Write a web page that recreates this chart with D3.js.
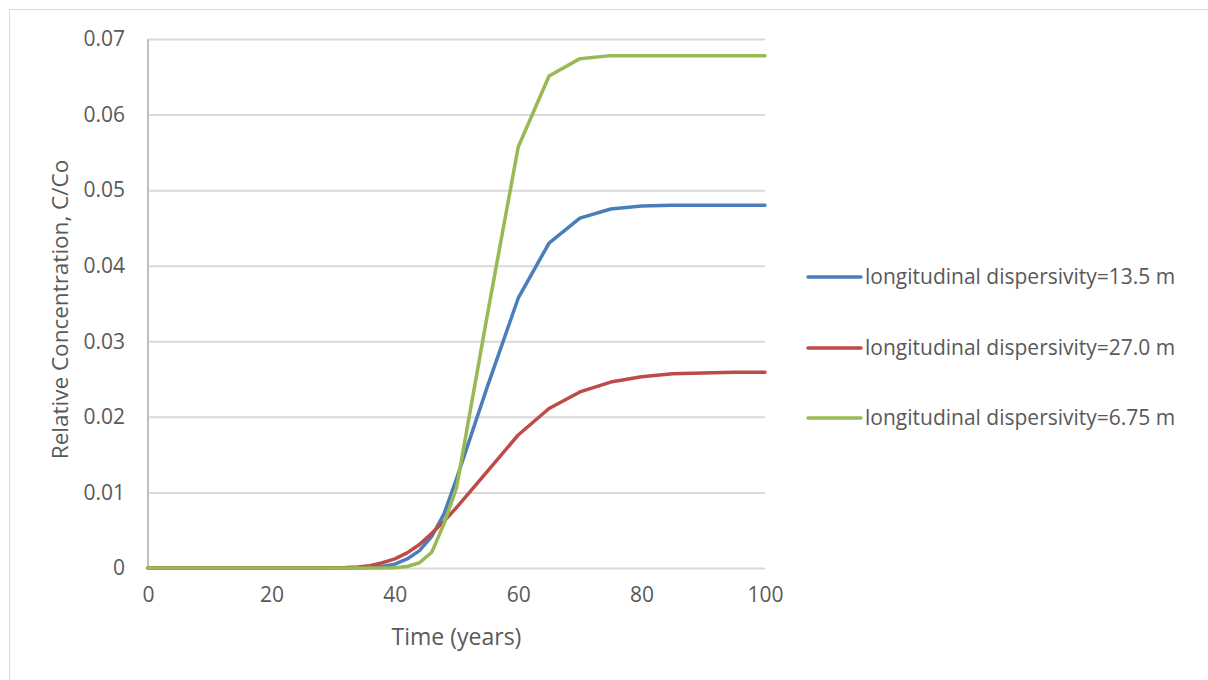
<!DOCTYPE html>
<html>
<head>
<meta charset="utf-8">
<script src="https://cdn.jsdelivr.net/npm/d3@7"></script>
<style>
  body { margin: 0; background: #fff; }
  svg { display: block; }
</style>
</head>
<body>
<div id="chart"></div>
<script>
// time steps (years)
const years = [0, 2, 4, 6, 8, 10, 12, 14, 16, 18, 20, 22, 24, 26, 28, 30, 32, 34, 36, 38,
  40, 42, 44, 46, 48, 50, 55, 60, 65, 70, 75, 80, 85, 90, 95, 100];

// relative concentration C/Co for each dispersivity
const conc135 = [0, 0, 0, 0, 0, 0, 0, 0, 0, 0, 0, 0, 0, 0, 0, 0, 0, 0.00002, 0.00008, 0.0002,
  0.0005, 0.0012, 0.0023, 0.0042, 0.0072, 0.0118, 0.0240, 0.0357, 0.0430, 0.0463, 0.0475, 0.0479, 0.0480, 0.0480, 0.0480, 0.0480];
const conc270 = [0, 0, 0, 0, 0, 0, 0, 0, 0, 0, 0, 0, 0, 0, 0, 0.00002, 0.00005, 0.00012, 0.0003, 0.0007,
  0.0012, 0.0020, 0.0031, 0.0046, 0.0062, 0.0080, 0.0128, 0.0176, 0.0211, 0.0233, 0.0246, 0.0253, 0.0257, 0.0258, 0.0259, 0.0259];
const conc675 = [0, 0, 0, 0, 0, 0, 0, 0, 0, 0, 0, 0, 0, 0, 0, 0, 0, 0, 0, 0,
  0.00003, 0.0002, 0.0007, 0.0021, 0.0059, 0.0106, 0.0335, 0.0557, 0.0651, 0.0674, 0.0678, 0.0678, 0.0678, 0.0678, 0.0678, 0.0678];

const seriesNames = [
  "longitudinal dispersivity=13.5 m",
  "longitudinal dispersivity=27.0 m",
  "longitudinal dispersivity=6.75 m"
];
const seriesValues = [conc135, conc270, conc675];
const seriesColors = ["#4a7ebb", "#be4b48", "#98b954"];

const xTicks = [0, 20, 40, 60, 80, 100];
const yTicks = [0, 0.01, 0.02, 0.03, 0.04, 0.05, 0.06, 0.07];

const width = 1208, height = 680;
const margin = { left: 148, right: 443, top: 39, bottom: 112 };
const font = "'Open Sans', sans-serif";
const textColor = "#595959";

const svg = d3.select("#chart").append("svg")
  .attr("width", width)
  .attr("height", height);

// chart frame
svg.append("rect")
  .attr("x", 9.5).attr("y", 9.5)
  .attr("width", width + 20).attr("height", height + 20)
  .attr("fill", "#fff")
  .attr("stroke", "#d9d9d9")
  .attr("stroke-width", 1);

const xScale = d3.scaleLinear().domain([0, 100]).range([margin.left, width - margin.right]);
const yScale = d3.scaleLinear().domain([0, 0.07]).range([height - margin.bottom, margin.top]);

// horizontal grid lines
svg.append("g")
  .attr("transform", `translate(${margin.left},0)`)
  .call(d3.axisLeft(yScale).tickValues(yTicks).tickSize(-(xScale.range()[1] - margin.left)).tickFormat(""))
  .call(g => g.select(".domain").remove())
  .selectAll(".tick line")
  .attr("stroke", "#d9d9d9")
  .attr("stroke-width", 2);

// y axis line
svg.append("line")
  .attr("x1", margin.left).attr("x2", margin.left)
  .attr("y1", yScale(0.07)).attr("y2", yScale(0))
  .attr("stroke", "#bfbfbf")
  .attr("stroke-width", 2);

// y tick labels
svg.append("g")
  .attr("transform", `translate(${margin.left},0)`)
  .call(d3.axisLeft(yScale).tickValues(yTicks).tickSize(0).tickPadding(23)
    .tickFormat(d => d === 0 ? "0" : d3.format(".2f")(d)))
  .call(g => g.select(".domain").remove())
  .selectAll("text")
  .attr("font-family", font)
  .attr("font-size", 21)
  .attr("fill", textColor);

// x tick labels
svg.append("g")
  .attr("transform", `translate(0,${yScale(0)})`)
  .call(d3.axisBottom(xScale).tickValues(xTicks).tickSize(0).tickPadding(19).tickFormat(d3.format("d")))
  .call(g => g.select(".domain").remove())
  .selectAll("text")
  .attr("font-family", font)
  .attr("font-size", 21)
  .attr("fill", textColor);

// axis titles
svg.append("text")
  .attr("x", (xScale.range()[0] + xScale.range()[1]) / 2)
  .attr("y", 645)
  .attr("text-anchor", "middle")
  .attr("font-family", font)
  .attr("font-size", 23)
  .attr("fill", textColor)
  .text("Time (years)");

svg.append("text")
  .attr("transform", `translate(68,${(yScale(0) + yScale(0.07)) / 2 + 6}) rotate(-90)`)
  .attr("text-anchor", "middle")
  .attr("font-family", font)
  .attr("font-size", 22.5)
  .attr("fill", textColor)
  .text("Relative Concentration, C/Co");

// series lines
const line = d3.line()
  .x((d, i) => xScale(years[i]))
  .y(d => yScale(d));

seriesValues.forEach((vals, i) => {
  svg.append("path")
    .datum(vals)
    .attr("fill", "none")
    .attr("stroke", seriesColors[i])
    .attr("stroke-width", 3.5)
    .attr("stroke-linejoin", "round")
    .attr("stroke-linecap", "round")
    .attr("d", line);
});

// legend
const legendY = [277, 348, 418];
seriesNames.forEach((name, i) => {
  const g = svg.append("g").attr("transform", `translate(808,${legendY[i]})`);
  g.append("line")
    .attr("x1", 0).attr("x2", 53)
    .attr("stroke", seriesColors[i])
    .attr("stroke-width", 3.5)
    .attr("stroke-linecap", "round");
  g.append("text")
    .attr("x", 57)
    .attr("dy", "0.35em")
    .attr("font-family", font)
    .attr("font-size", 21)
    .attr("fill", textColor)
    .text(name);
});
</script>
</body>
</html>
